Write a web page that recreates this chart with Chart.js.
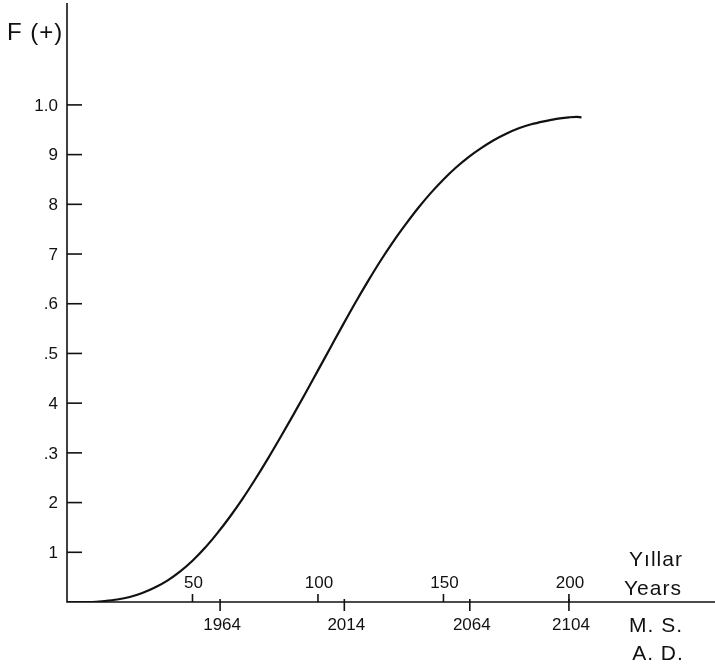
<!DOCTYPE html>
<html>
<head>
<meta charset="utf-8">
<script src="https://cdn.jsdelivr.net/npm/chart.js@4/dist/chart.umd.min.js"></script>
<style>
html,body{margin:0;padding:0;background:#fff;}
#wrap{width:715px;height:672px;position:relative;}
</style>
</head>
<body>
<div id="wrap"><canvas id="c"></canvas></div>
<script>
// Years elapsed since start of the curve
const years = [0, 10, 15, 20, 25, 30, 35, 40, 45, 50, 55, 60, 65, 70, 75, 80, 85, 90, 95, 100, 105, 110, 115, 120, 125, 130, 135, 140, 145, 150, 155, 160, 165, 170, 175, 180, 185, 190, 195, 200, 203, 205];
// F(+) values
const fValues = [0, 0, 0.002, 0.005, 0.010, 0.018, 0.029, 0.043, 0.061, 0.083, 0.109, 0.139, 0.172, 0.208, 0.247, 0.288, 0.331, 0.375, 0.420, 0.466, 0.512, 0.558, 0.603, 0.646, 0.687, 0.725, 0.760, 0.793, 0.823, 0.850, 0.874, 0.895, 0.913, 0.929, 0.942, 0.953, 0.961, 0.967, 0.972, 0.975, 0.976, 0.975];
// Y axis ticks (labels as printed)
const yTickValues = [1.0, 0.9, 0.8, 0.7, 0.6, 0.5, 0.4, 0.3, 0.2, 0.1];
const yTickLabels = ["1.0", "9", "8", "7", ".6", ".5", "4", ".3", "2", "1"];
// Upper x ticks: years elapsed
const upperTickValues = [50, 100, 150, 200];
const upperTickLabels = ["50", "100", "150", "200"];
// Lower x ticks: calendar years (A.D.), positioned in elapsed years
const lowerTickPositions = [61, 110.5, 160.5, 200];
const lowerTickLabels = ["1964", "2014", "2064", "2104"];
const axisTitleY = "F (+)";
const axisTitleX = ["Yıllar", "Years"];
const axisTitleX2 = ["M. S.", "A. D."];

const X_MAX = 258.2, Y_MAX = 1.205;

const axesPlugin = {
  id: 'axesPlugin',
  afterDraw(chart) {
    const ctx = chart.ctx, xs = chart.scales.x, ys = chart.scales.y;
    const x0 = xs.getPixelForValue(0), y0 = ys.getPixelForValue(0);
    const yTop = ys.getPixelForValue(Y_MAX), xRight = xs.getPixelForValue(X_MAX);
    ctx.save();
    ctx.strokeStyle = '#111';
    ctx.fillStyle = '#111';
    ctx.lineWidth = 1.6;
    ctx.beginPath();
    ctx.moveTo(x0, yTop); ctx.lineTo(x0, y0); ctx.lineTo(xRight, y0);
    ctx.stroke();
    // y ticks
    ctx.font = '17px "Liberation Sans", Arial, sans-serif';
    ctx.textAlign = 'right'; ctx.textBaseline = 'middle';
    yTickValues.forEach((v, i) => {
      const py = ys.getPixelForValue(v);
      ctx.beginPath(); ctx.moveTo(x0, py); ctx.lineTo(x0 + 15, py); ctx.stroke();
      ctx.fillText(yTickLabels[i], x0 - 9, py + 1);
    });
    // upper x ticks
    ctx.textAlign = 'center'; ctx.textBaseline = 'middle';
    upperTickValues.forEach((v, i) => {
      const px = xs.getPixelForValue(v);
      ctx.beginPath(); ctx.moveTo(px, y0); ctx.lineTo(px, y0 - 8); ctx.stroke();
      ctx.fillText(upperTickLabels[i], px + 1, y0 - 19);
    });
    // lower x ticks
    lowerTickPositions.forEach((v, i) => {
      const px = xs.getPixelForValue(v);
      ctx.beginPath(); ctx.moveTo(px, y0 - 3); ctx.lineTo(px, y0 + 9); ctx.stroke();
      ctx.fillText(lowerTickLabels[i], px + 2, y0 + 23);
    });
    // titles
    ctx.font = '24px "Liberation Sans", Arial, sans-serif';
    ctx.textAlign = 'left';
    if ('letterSpacing' in ctx) ctx.letterSpacing = '1px';
    ctx.fillText(axisTitleY, 7, 33);
    ctx.font = '21px "Liberation Sans", Arial, sans-serif';
    ctx.textAlign = 'center';
    ctx.fillText(axisTitleX[0], 656, y0 - 42);
    ctx.fillText(axisTitleX[1], 653, y0 - 13);
    ctx.fillText(axisTitleX2[0], 656, y0 + 24);
    ctx.fillText(axisTitleX2[1], 658, y0 + 52);
    ctx.restore();
  }
};

new Chart(document.getElementById('c'), {
  type: 'line',
  data: {
    datasets: [{
      data: years.map((x, i) => ({x: x, y: fValues[i]})),
      borderColor: '#111',
      borderWidth: 2.2,
      pointRadius: 0,
      fill: false,
      cubicInterpolationMode: 'monotone'
    }]
  },
  options: {
    responsive: true,
    maintainAspectRatio: false,
    animation: false,
    layout: { padding: { left: 67, top: 3, right: 0, bottom: 70 } },
    plugins: { legend: { display: false }, tooltip: { enabled: false } },
    scales: {
      x: { type: 'linear', min: 0, max: X_MAX, display: false },
      y: { type: 'linear', min: 0, max: Y_MAX, display: false }
    }
  },
  plugins: [axesPlugin]
});
</script>
</body>
</html>
